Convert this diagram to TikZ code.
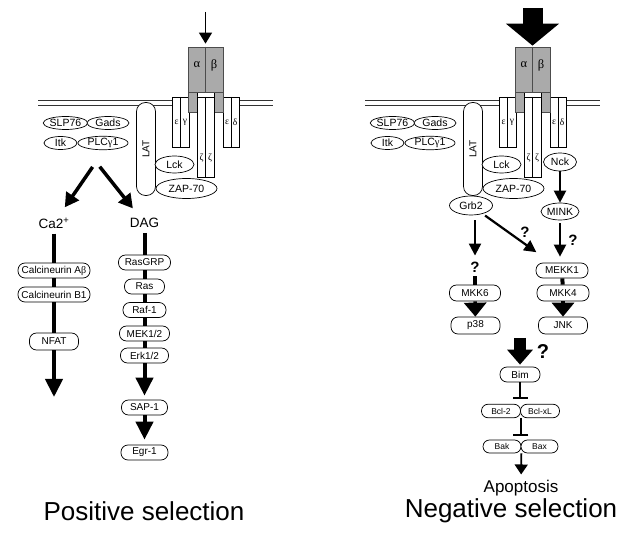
\documentclass[tikz,border=0pt]{standalone}
\usepackage{fontspec}
\setmainfont{Liberation Sans}
\newfontfamily\grk{Liberation Serif}
\usetikzlibrary{shapes,arrows.meta,positioning,calc}

\definecolor{tcrgray}{RGB}{170,170,170}

\tikzset{
  membr/.style={draw=black!80, line width=0.8pt},
  cd3/.style={draw, line width=0.7pt, fill=white},
  tcr/.style={rectangle, draw=black!70, line width=0.7pt, fill=tcrgray, minimum width=35, minimum height=45, inner sep=0pt},
  greek/.style={inner sep=0pt, font=\grk\fontsize{9.5}{11}\selectfont},
  mem/.style={ellipse, draw, line width=0.7pt, fill=white, inner sep=0pt, font=\fontsize{10.5}{12}\selectfont},
  pill/.style={rectangle, rounded corners=7pt, draw, line width=0.7pt, fill=white, inner sep=0pt, minimum height=15, font=\fontsize{10}{12}\selectfont},
  duo/.style={pill, rounded corners=6.5pt, minimum height=13.5, font=\fontsize{8.5}{10}\selectfont},
  sig/.style={inner sep=1pt, font=\fontsize{13.5}{16}\selectfont},
  headline/.style={inner sep=0pt, font=\fontsize{26}{30}\selectfont},
  query/.style={inner sep=0pt, font=\fontsize{15}{18}\selectfont\bfseries},
  link/.style={line width=4pt},
  fatarr/.style={line width=4pt, -{Triangle[width=17pt,length=18pt]}},
  forkarr/.style={line width=3.5pt, -{Triangle[width=15pt,length=14pt]}},
  medarr/.style={line width=2.2pt, -{Triangle[width=12pt,length=12pt]}},
  jumparr/.style={line width=3.5pt, -{Triangle[width=22pt,length=14pt]}},
  bigarr/.style={line width=12pt, -{Triangle[width=25pt,length=15pt]}},
  hugearr/.style={line width=20pt, -{Triangle[width=52pt,length=22pt]}},
  thinarr/.style={line width=1.3pt, -{Triangle[width=13pt,length=11pt]}},
  smallarr/.style={line width=1.8pt, -{Triangle[width=13pt,length=10pt]}},
  inhib/.style={line width=1.5pt, -{Bar[width=15pt,line width=2pt]}}
}

\begin{document}
\begin{tikzpicture}[x=1pt, y=-1pt]
\useasboundingbox (0,0) rectangle (621,534);

% membrane and TCR complex, same in both panels
\foreach \dx/\p in {0/pos,327/neg}{
  \begin{scope}[xshift=\dx]
    \draw[membr] (38,100) -- (273,100);
    \draw[membr] (38,105) -- (273,105);
    % CD3 chains
    \draw[cd3] (172,97) rectangle (189,147) (180.5,97) -- (180.5,147);
    \draw[cd3] (223,97) rectangle (239,147) (231,97) -- (231,147);
    \node[greek] (eg1-\p) at (176.5,122) {ε};
    \node[greek] (eg2-\p) at (185,122) {γ};
    \node[greek] (ed1-\p) at (227,122) {ε};
    \node[greek] (ed2-\p) at (235,122) {δ};
    % alpha beta and zeta
    \draw[draw=black!70, line width=0.7pt, fill=tcrgray] (188,92) rectangle (223,112);
    \draw[cd3] (197,92) rectangle (214,97);
    \draw[cd3] (197,97) rectangle (214,177) (205.5,97) -- (205.5,177);
    \node[greek] (z1-\p) at (201.5,158) {ζ};
    \node[greek] (z2-\p) at (210,158) {ζ};
    \node[tcr] (ab-\p) at (205.5,69.5) {};
    \draw[draw=black!70, line width=0.7pt] (ab-\p.north) -- (ab-\p.south);
    \node[greek, font=\grk\fontsize{12.5}{14}\selectfont] (a-\p) at (197,65) {α};
    \node[greek, font=\grk\fontsize{12.5}{14}\selectfont] (b-\p) at (214,65) {β};
    % adaptors
    \node[pill, rotate=90, rounded corners=9pt, minimum width=93, minimum height=19] (lat-\p) at (146,149) {LAT};
    \node[mem, minimum width=43, minimum height=13] (slp-\p) at (65.5,123) {SLP76};
    \node[mem, minimum width=42, minimum height=13] (gads-\p) at (108,123) {Gads};
    \node[mem, minimum width=33, minimum height=13] (itk-\p) at (60.5,143) {Itk};
    \node[mem, minimum width=50, minimum height=13] (plc-\p) at (103,143) {PLC{\grk γ}1};
    \node[mem, minimum width=39, minimum height=17] (lck-\p) at (174.5,164.5) {Lck};
    \node[mem, minimum width=61, minimum height=20] (zap-\p) at (186.5,188.5) {ZAP-70};
  \end{scope}
}

% Positive selection
\coordinate (sig-weak) at (205.5,12);
\draw[thinarr, shorten >=3pt] (sig-weak) -- (ab-pos);
\coordinate (fork) at (96,162);
\node[sig] (ca) at (54,223) {Ca2\textsuperscript{+}};
\node[sig] (dag) at (144.5,223) {DAG};
\draw[forkarr, shorten <=6pt, shorten >=11pt] (fork) -- (ca);
\draw[forkarr, shorten <=6pt, shorten >=11pt] (fork) -- (dag);

\node[pill, minimum width=72] (cna) at (54,270.5) {Calcineurin A{\grk β}};
\node[pill, minimum width=72] (cnb) at (54,294.5) {Calcineurin B1};
\node[pill, minimum width=49, minimum height=17] (nfat) at (54,341.5) {NFAT};
\coordinate (ca-end) at (54,397);
\draw[link, shorten <=4pt] (ca) -- (cna);
\draw[link] (cna) -- (cnb);
\draw[link] (cnb) -- (nfat);
\draw[fatarr] (nfat) -- (ca-end);

\node[pill, minimum width=52] (rasgrp) at (144.5,262.5) {RasGRP};
\node[pill, minimum width=40] (ras) at (144.5,286.5) {Ras};
\node[pill, minimum width=43] (raf) at (144.5,310) {Raf-1};
\node[pill, minimum width=50] (mek) at (144.5,333.5) {MEK1/2};
\node[pill, minimum width=48] (erk) at (144.5,355.5) {Erk1/2};
\node[pill, minimum width=46] (sap) at (144.5,407.5) {SAP-1};
\node[pill, minimum width=47] (egr) at (144.5,452.5) {Egr-1};
\draw[link, shorten <=4pt] (dag) -- (rasgrp);
\draw[link] (rasgrp) -- (ras);
\draw[link] (ras) -- (raf);
\draw[link] (raf) -- (mek);
\draw[link] (mek) -- (erk);
\draw[fatarr, shorten >=4pt] (erk) -- (sap);
\draw[fatarr, shorten >=5pt] (sap) -- (egr);

\node[headline] (pos-title) at (144,511) {Positive selection};

% Negative selection
\coordinate (sig-strong) at (532.5,8);
\draw[hugearr, shorten >=1pt] (sig-strong) -- (ab-neg);
\node[mem, minimum width=33, minimum height=18] (nck) at (560,162) {Nck};
\node[mem, minimum width=43, minimum height=19] (grb2) at (471,205.5) {Grb2};
\node[mem, minimum width=38, minimum height=17] (mink) at (560,211.5) {MINK};
\draw[medarr] (nck) -- (mink);

\node[query] (q-grb) at (475,267) {?};
\node[pill, minimum width=51, minimum height=16] (mkk6) at (475,293) {MKK6};
\node[pill, minimum width=49, minimum height=17] (p38) at (475.5,325.5) {p38};
\draw[medarr, shorten <=5pt, shorten >=6pt] (grb2.south -| q-grb) -- (q-grb);
\draw[link, shorten <=4pt] (q-grb) -- (mkk6);
\draw[jumparr] (mkk6) -- (p38);

\node[pill, minimum width=52] (mekk1) at (562,270.5) {MEKK1};
\node[pill, minimum width=52, minimum height=16] (mkk4) at (563,293) {MKK4};
\node[pill, minimum width=49, minimum height=17] (jnk) at (563,325.5) {JNK};
\draw[medarr, shorten <=3pt, shorten >=6pt] (mink) -- (mink |- mekk1.north);
\node[query] (q-mink) at (573,240) {?};
\draw[medarr, shorten <=3pt, shorten >=18pt] (grb2) -- (mekk1);
\node[query] (q-cross) at (525,232) {?};
\draw[link] (mekk1) -- (mkk4);
\draw[jumparr] (mkk4) -- (jnk);

\coordinate (bim-in) at (520,338);
\node[pill, minimum width=40] (bim) at (520,374.5) {Bim};
\draw[bigarr, shorten >=2pt] (bim-in) -- (bim);
\node[query, font=\fontsize{20}{24}\selectfont\bfseries] (q-bim) at (543,352) {?};

\node[duo, minimum width=39] (bcl2) at (501,411) {Bcl-2};
\node[duo, minimum width=39] (bclxl) at (540,411) {Bcl-xL};
\draw[inhib, shorten >=5pt] (bim) -- (bim.south |- bcl2.north);
\node[duo, minimum width=38, minimum height=13] (bak) at (502,446.5) {Bak};
\node[duo, minimum width=37, minimum height=13] (bax) at (539.5,446.5) {Bax};
\draw[inhib, shorten >=4pt] (bcl2.south east) -- (bcl2.south east |- bak.north);
\node[inner sep=1pt, font=\fontsize{17}{20}\selectfont, anchor=base] (apop) at (521,492) {Apoptosis};
\draw[smallarr, shorten >=4pt] (bak.south east) -- (apop);

\node[headline] (neg-title) at (511,511) {Negative selection};
\end{tikzpicture}
\end{document}
